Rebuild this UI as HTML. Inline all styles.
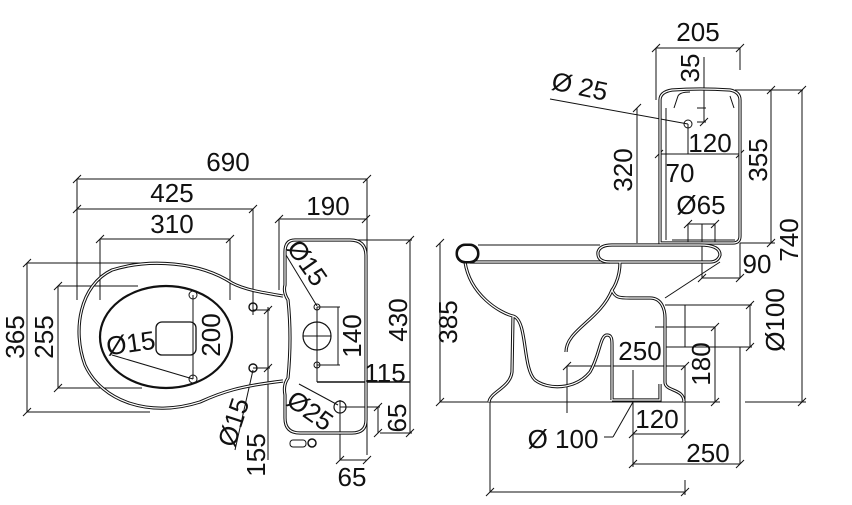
<!DOCTYPE html>
<html><head><meta charset="utf-8"><style>
html,body{margin:0;padding:0;background:#fff;}
svg{display:block;}
text{font-family:"Liberation Sans",sans-serif;font-size:26px;fill:#111;}
.d{stroke:#111;stroke-width:1;fill:none;}
.o{stroke:#111;stroke-width:3.2;fill:none;}
.i{stroke:#fff;stroke-width:1.2;fill:none;}
</style></head><body>
<svg width="852" height="505" viewBox="0 0 852 505" xmlns="http://www.w3.org/2000/svg">
<g class="d">
<line x1="77" y1="179" x2="367" y2="179"/><line x1="77" y1="179" x2="77" y2="300"/><line x1="367" y1="179" x2="367" y2="455"/>
<line x1="77" y1="209" x2="253" y2="209"/><line x1="253" y1="209" x2="253" y2="315"/>
<line x1="100" y1="239" x2="230" y2="239"/><line x1="100" y1="239" x2="100" y2="300"/><line x1="230" y1="239" x2="230" y2="300"/>
<line x1="279" y1="219" x2="366" y2="219"/><line x1="279" y1="219" x2="279" y2="290"/>
<line x1="27" y1="263" x2="27" y2="412"/><line x1="27" y1="263" x2="150" y2="263"/><line x1="27" y1="412" x2="150" y2="412"/>
<line x1="58" y1="286" x2="58" y2="388"/><line x1="58" y1="286" x2="138" y2="286"/><line x1="58" y1="388" x2="142" y2="388"/>
<line x1="410" y1="240" x2="410" y2="433"/><line x1="355" y1="240" x2="412" y2="240"/><line x1="380" y1="433" x2="412" y2="433"/>
<line x1="193" y1="295" x2="193" y2="379"/>
<line x1="317" y1="307" x2="340" y2="307"/><line x1="317" y1="365" x2="340" y2="365"/><line x1="338" y1="307" x2="338" y2="365"/>
<line x1="317" y1="382" x2="410" y2="382" stroke-width="1.6"/>
<line x1="317" y1="307" x2="317" y2="382"/>
<line x1="340" y1="407" x2="380" y2="407"/><line x1="378" y1="407" x2="378" y2="433"/>
<line x1="340" y1="400" x2="340" y2="460"/><line x1="340" y1="460" x2="367" y2="460"/>
<line x1="253" y1="310" x2="270" y2="310"/><line x1="253" y1="368" x2="270" y2="368"/><line x1="268" y1="307" x2="268" y2="460"/>
<line x1="286" y1="255" x2="317" y2="306"/>
<line x1="112" y1="355" x2="193" y2="379"/>
<line x1="253" y1="370" x2="235" y2="450"/>
<line x1="299" y1="384" x2="338" y2="405"/>
<path d="M73,183L81,175M363,183L371,175M73,213L81,205M249,213L257,205M96,243L104,235M226,243L234,235M275,223L283,215M362,223L370,215M23,267L31,259M23,416L31,408M54,290L62,282M54,392L62,384M406,244L414,236M406,437L414,429M374,411L382,403M374,437L382,429M336,464L344,456M363,464L371,456M264,314L272,306M264,372L272,364"/>
</g>
<path class="o" d="M283,296 C265,293 245,290 232,283 C200,262 150,258 112,270 C80,285 72,330 85,365 C102,402 150,418 200,402 C222,392 240,386 283,381"/>
<path class="i" d="M283,296 C265,293 245,290 232,283 C200,262 150,258 112,270 C80,285 72,330 85,365 C102,402 150,418 200,402 C222,392 240,386 283,381"/>
<ellipse cx="166" cy="337" rx="66" ry="51" fill="none" stroke="#111" stroke-width="2.2"/>
<rect x="156" y="322" width="40" height="33" rx="6" fill="none" stroke="#111" stroke-width="1.3"/>
<circle cx="193" cy="295" r="4" fill="none" stroke="#111"/><circle cx="193" cy="379" r="4" fill="none" stroke="#111"/>
<circle cx="253" cy="307" r="4" fill="none" stroke="#111" stroke-width="1.4"/><circle cx="253" cy="368" r="4" fill="none" stroke="#111" stroke-width="1.4"/>
<path class="o" d="M295,240 L350,240 Q366,240 366,256 L366,420 Q366,433 352,433 L300,433 Q285,433 285,418 L285,395 Q283,385 288,378 Q292,337 288,300 Q283,292 285,285 L285,252 Q285,240 295,240 Z"/>
<path class="i" d="M295,240 L350,240 Q366,240 366,256 L366,420 Q366,433 352,433 L300,433 Q285,433 285,418 L285,395 Q283,385 288,378 Q292,337 288,300 Q283,292 285,285 L285,252 Q285,240 295,240 Z"/>
<circle cx="317" cy="336" r="14" fill="none" stroke="#111" stroke-width="1.2"/>
<line class="d" x1="303" y1="336" x2="331" y2="336"/>
<circle cx="317" cy="307" r="3" fill="none" stroke="#111"/><circle cx="317" cy="365" r="3" fill="none" stroke="#111"/>
<circle cx="340" cy="407" r="6" fill="none" stroke="#111" stroke-width="1.2"/>
<rect x="290" y="440" width="16" height="7" rx="3" fill="none" stroke="#111"/><circle cx="312" cy="443" r="4" fill="none" stroke="#111" stroke-width="1.5"/>
<text x="228" y="171" text-anchor="middle">690</text>
<text x="172" y="202" text-anchor="middle">425</text>
<text x="172" y="233" text-anchor="middle">310</text>
<text x="328" y="215" text-anchor="middle">190</text>
<text transform="translate(24,337) rotate(-90)" text-anchor="middle">365</text>
<text transform="translate(53,337) rotate(-90)" text-anchor="middle">255</text>
<text transform="translate(220,335) rotate(-90)" text-anchor="middle">200</text>
<text transform="translate(361,336) rotate(-90)" text-anchor="middle">140</text>
<text transform="translate(407,320) rotate(-90)" text-anchor="middle">430</text>
<text x="385" y="382" text-anchor="middle">115</text>
<text transform="translate(406,418) rotate(-90)" text-anchor="middle">65</text>
<text x="352" y="486" text-anchor="middle">65</text>
<text transform="translate(265,455) rotate(-90)" text-anchor="middle">155</text>
<text transform="translate(242,425) rotate(-72)" text-anchor="middle">Ø15</text>
<text transform="translate(132,352) rotate(-8)" text-anchor="middle">Ø15</text>
<text transform="translate(300,268) rotate(55)" text-anchor="middle">Ø15</text>
<text transform="translate(305,418) rotate(35)" text-anchor="middle">Ø25</text>

<g class="d">
<line x1="656" y1="48" x2="740" y2="48"/><line x1="656" y1="48" x2="656" y2="100"/><line x1="740" y1="48" x2="740" y2="70"/>
<line x1="704" y1="57" x2="704" y2="122"/><line x1="697" y1="122" x2="706" y2="122"/><line x1="697" y1="108" x2="706" y2="108"/>
<line x1="550" y1="99" x2="688" y2="124"/>
<line x1="659" y1="154" x2="740" y2="154"/><line x1="688" y1="124" x2="688" y2="154"/>
<line x1="637" y1="108" x2="637" y2="243"/>
<line x1="771" y1="90" x2="771" y2="243"/><line x1="735" y1="90" x2="803" y2="90"/><line x1="740" y1="243" x2="775" y2="243"/>
<line x1="802" y1="90" x2="802" y2="402"/><line x1="745" y1="402" x2="806" y2="402"/>
<line x1="688" y1="224" x2="688" y2="243"/><line x1="715" y1="224" x2="715" y2="243"/><line x1="688" y1="224" x2="715" y2="224"/>
<line x1="702" y1="224" x2="702" y2="278"/>
<line x1="702" y1="278" x2="740" y2="278"/><line x1="740" y1="243" x2="740" y2="278"/>
<line x1="440" y1="243" x2="440" y2="402"/>
<line x1="440" y1="402" x2="720" y2="402"/>
<line x1="665" y1="305" x2="752" y2="305"/><line x1="665" y1="347" x2="752" y2="347"/><line x1="750" y1="305" x2="750" y2="347"/><line x1="685" y1="305" x2="685" y2="347"/>
<line x1="655" y1="327" x2="715" y2="327"/><line x1="715" y1="327" x2="715" y2="402"/>
<line x1="567" y1="366" x2="685" y2="366"/><line x1="567" y1="366" x2="567" y2="413"/><line x1="685" y1="366" x2="685" y2="434"/>
<line x1="633" y1="370" x2="633" y2="467"/><line x1="633" y1="434" x2="685" y2="434"/>
<line x1="633" y1="464" x2="740" y2="464"/><line x1="740" y1="347" x2="740" y2="464"/>
<line x1="490" y1="402" x2="490" y2="492"/><line x1="490" y1="492" x2="685" y2="492"/><line x1="685" y1="480" x2="685" y2="495"/>
<line x1="604" y1="437" x2="613" y2="437"/><line x1="613" y1="437" x2="633" y2="402"/>
<line x1="720" y1="262" x2="665" y2="298"/>
<path d="M652,52L660,44M736,52L744,44M700,126L708,118M655,158L663,150M736,158L744,150M633,112L641,104M767,94L775,86M767,247L775,239M798,94L806,86M798,406L806,398M436,247L444,239M436,406L444,398M746,309L754,301M746,351L754,343M711,331L719,323M711,406L719,398M563,370L571,362M681,370L689,362M629,438L637,430M681,438L689,430M629,468L637,460M736,468L744,460M486,496L494,488M681,496L689,488M698,282L706,274M736,282L744,274M684,228L692,220M711,228L719,220"/>
</g>
<path class="o" d="M660,243 L660,100 Q660,92 672,90 Q700,88 730,90 Q740,92 740,100 L740,236 Q740,243 733,243 Z"/>
<path class="i" d="M660,243 L660,100 Q660,92 672,90 Q700,88 730,90 Q740,92 740,100 L740,236 Q740,243 733,243 Z"/>
<path class="d" stroke-width="1.5" d="M666,240 L666,108 M672,240 L735,240 M674,108 L678,96 Q680,92 690,92 M734,108 L730,96"/>
<circle cx="688" cy="124" r="4" fill="none" stroke="#111"/>
<path class="o" d="M620,245 L700,245 Q720,245 720,255 Q718,262 710,262 L470,262 M465,262 C470,295 500,313 513,316 C528,320 522,368 535,380 C548,390 575,390 590,372 C600,355 600,335 607,335 C612,335 612,340 612,345 L612,400 M513,316 L512,372 C510,388 490,392 489,402 M620,262 C620,280 612,290 612,290 C600,320 566,330 566,352 M612,290 C615,298 620,298 630,298 L650,298 C662,298 665,310 665,318 L665,382 C665,392 684,388 684,402 M612,400 L660,400 L660,384"/>
<path class="i" d="M620,245 L700,245 Q720,245 720,255 Q718,262 710,262 L470,262 M465,262 C470,295 500,313 513,316 C528,320 522,368 535,380 C548,390 575,390 590,372 C600,355 600,335 607,335 C612,335 612,340 612,345 L612,400 M513,316 L512,372 C510,388 490,392 489,402 M620,262 C620,280 612,290 612,290 C600,320 566,330 566,352 M612,290 C615,298 620,298 630,298 L650,298 C662,298 665,310 665,318 L665,382 C665,392 684,388 684,402 M612,400 L660,400 L660,384"/>
<rect x="457" y="245" width="21" height="17" rx="8" fill="none" stroke="#111" stroke-width="3"/>
<rect x="458.5" y="246.5" width="18" height="14" rx="7" fill="none" stroke="#fff" stroke-width="1"/>
<path class="o" d="M610,262 Q597,262 598,252 Q600,245 612,245 L620,245"/>
<path class="i" d="M610,262 Q597,262 598,252 Q600,245 612,245 L620,245"/>
<line class="d" x1="478" y1="245" x2="600" y2="245"/>
<text x="698" y="41" text-anchor="middle">205</text>
<text transform="translate(699,68) rotate(-90)" text-anchor="middle">35</text>
<text transform="translate(578,95) rotate(12)" text-anchor="middle">Ø 25</text>
<text x="710" y="152" text-anchor="middle">120</text>
<text transform="translate(632,170) rotate(-90)" text-anchor="middle">320</text>
<text x="680" y="182" text-anchor="middle">70</text>
<text transform="translate(767,160) rotate(-90)" text-anchor="middle">355</text>
<text transform="translate(798,240) rotate(-90)" text-anchor="middle">740</text>
<text x="701" y="214" text-anchor="middle">Ø65</text>
<text x="757" y="273" text-anchor="middle">90</text>
<text transform="translate(457,322) rotate(-90)" text-anchor="middle">385</text>
<text transform="translate(784,320) rotate(-90)" text-anchor="middle">Ø100</text>
<text x="640" y="360" text-anchor="middle">250</text>
<text transform="translate(710,364) rotate(-90)" text-anchor="middle">180</text>
<text x="657" y="428" text-anchor="middle">120</text>
<text x="563" y="448" text-anchor="middle">Ø 100</text>
<text x="708" y="462" text-anchor="middle">250</text>
</svg>
</body></html>
